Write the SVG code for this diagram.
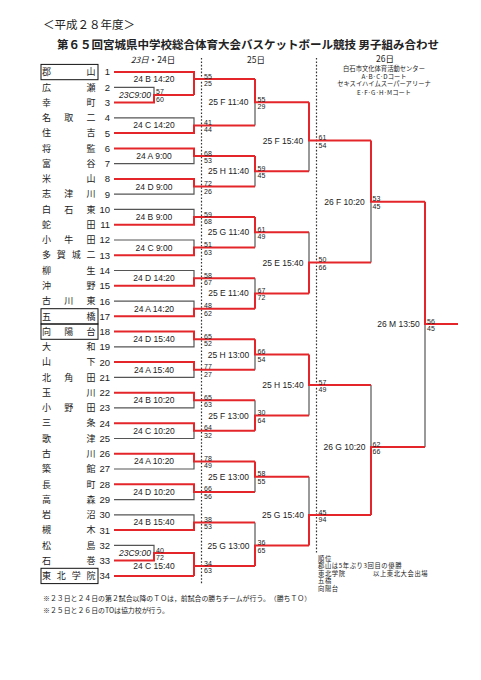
<svg xmlns="http://www.w3.org/2000/svg" width="481" height="680" viewBox="0 0 481 680">
<style>
.r{fill:none;stroke:#e4262b;stroke-width:2}
.g{fill:none;stroke:#555;stroke-width:1.2}
.dot{stroke:#333;stroke-width:1.2;stroke-dasharray:1.6 1.8}
.nm{font-family:"Noto Sans CJK JP",sans-serif;font-size:9px;fill:#222;text-anchor:middle}
.no{font-family:"Liberation Sans",sans-serif;font-size:9.5px;fill:#222;text-anchor:end}
.lb{font-family:"Liberation Sans",sans-serif;font-size:8.5px;fill:#222;text-anchor:middle}
.it{font-style:italic}
.sc{font-family:"Liberation Sans",sans-serif;font-size:7px;fill:#222}
.box{fill:none;stroke:#111;stroke-width:1}
.jp{font-family:"Noto Sans CJK JP",sans-serif;fill:#222}
.res{font-family:"Noto Sans CJK JP",sans-serif;fill:#222;font-size:6.3px;letter-spacing:0.6px}
</style>
<rect width="481" height="680" fill="#fff"/>
<g id="header">
<text class="jp" x="43" y="29" font-size="11.5">＜平成２８年度＞</text>
<text class="jp" x="57" y="48.5" font-size="11.5" font-weight="bold">第６５回宮城県中学校総合体育大会バスケットボール競技 男子組み合わせ</text>
<text class="jp" x="153" y="63" font-size="8.5" text-anchor="middle"><tspan font-style="italic">23日</tspan>・24日</text>
<text class="jp" x="256" y="63" font-size="8.5" text-anchor="middle">25日</text>
<text class="jp" x="385" y="62.2" font-size="8.5" text-anchor="middle">26日</text>
<text class="jp" x="384" y="70.8" font-size="6.3" text-anchor="middle">白石市文化体育活動センター</text>
<text class="jp" x="384" y="78.8" font-size="6.3" text-anchor="middle">A·B·C·Dコート</text>
<text class="jp" x="384" y="86.4" font-size="6.3" text-anchor="middle">セキスイハイムスーパーアリーナ</text>
<text class="jp" x="384" y="94.8" font-size="6.3" text-anchor="middle">E·F·G·H·Mコート</text>
</g>
<g id="days">
<line class="dot" x1="201.5" y1="58" x2="201.5" y2="585"/>
<line class="dot" x1="316.5" y1="58" x2="316.5" y2="553"/>
</g>
<g id="teams">
<g id="team-1"><rect class="box" x="41" y="64.4" width="57" height="15.3"/><text class="nm" x="46.5 91" y="75.2">郡山</text><text class="no" x="110" y="75.4">1</text></g>
<g id="team-2"><text class="nm" x="46.5 91" y="90.5">広瀬</text><text class="no" x="110" y="90.7">2</text></g>
<g id="team-3"><text class="nm" x="46.5 91" y="105.7">幸町</text><text class="no" x="110" y="105.9">3</text></g>
<g id="team-4"><text class="nm" x="46.5 68.75 91" y="121">名取二</text><text class="no" x="110" y="121.2">4</text></g>
<g id="team-5"><text class="nm" x="46.5 91" y="136.3">住吉</text><text class="no" x="110" y="136.5">5</text></g>
<g id="team-6"><text class="nm" x="46.5 91" y="151.6">将監</text><text class="no" x="110" y="151.8">6</text></g>
<g id="team-7"><text class="nm" x="46.5 91" y="166.8">富谷</text><text class="no" x="110" y="167">7</text></g>
<g id="team-8"><text class="nm" x="46.5 91" y="182.1">米山</text><text class="no" x="110" y="182.3">8</text></g>
<g id="team-9"><text class="nm" x="46.5 68.75 91" y="197.4">志津川</text><text class="no" x="110" y="197.6">9</text></g>
<g id="team-10"><text class="nm" x="46.5 68.75 91" y="212.6">白石東</text><text class="no" x="110" y="212.8">10</text></g>
<g id="team-11"><text class="nm" x="46.5 91" y="227.9">蛇田</text><text class="no" x="110" y="228.1">11</text></g>
<g id="team-12"><text class="nm" x="46.5 68.75 91" y="243.2">小牛田</text><text class="no" x="110" y="243.4">12</text></g>
<g id="team-13"><text class="nm" x="46.5 61.3 76.2 91" y="258.4">多賀城二</text><text class="no" x="110" y="258.6">13</text></g>
<g id="team-14"><text class="nm" x="46.5 91" y="273.7">柳生</text><text class="no" x="110" y="273.9">14</text></g>
<g id="team-15"><text class="nm" x="46.5 91" y="289">沖野</text><text class="no" x="110" y="289.2">15</text></g>
<g id="team-16"><text class="nm" x="46.5 68.75 91" y="304.3">古川東</text><text class="no" x="110" y="304.5">16</text></g>
<g id="team-17"><rect class="box" x="41" y="308.7" width="57" height="15.3"/><text class="nm" x="46.5 91" y="319.5">五橋</text><text class="no" x="110" y="319.7">17</text></g>
<g id="team-18"><rect class="box" x="41" y="324" width="57" height="15.3"/><text class="nm" x="46.5 68.75 91" y="334.8">向陽台</text><text class="no" x="110" y="335">18</text></g>
<g id="team-19"><text class="nm" x="46.5 91" y="350.1">大和</text><text class="no" x="110" y="350.3">19</text></g>
<g id="team-20"><text class="nm" x="46.5 91" y="365.3">山下</text><text class="no" x="110" y="365.5">20</text></g>
<g id="team-21"><text class="nm" x="46.5 68.75 91" y="380.6">北角田</text><text class="no" x="110" y="380.8">21</text></g>
<g id="team-22"><text class="nm" x="46.5 91" y="395.9">玉川</text><text class="no" x="110" y="396.1">22</text></g>
<g id="team-23"><text class="nm" x="46.5 68.75 91" y="411.1">小野田</text><text class="no" x="110" y="411.3">23</text></g>
<g id="team-24"><text class="nm" x="46.5 91" y="426.4">三条</text><text class="no" x="110" y="426.6">24</text></g>
<g id="team-25"><text class="nm" x="46.5 91" y="441.7">歌津</text><text class="no" x="110" y="441.9">25</text></g>
<g id="team-26"><text class="nm" x="46.5 91" y="457">古川</text><text class="no" x="110" y="457.2">26</text></g>
<g id="team-27"><text class="nm" x="46.5 91" y="472.2">築館</text><text class="no" x="110" y="472.4">27</text></g>
<g id="team-28"><text class="nm" x="46.5 91" y="487.5">長町</text><text class="no" x="110" y="487.7">28</text></g>
<g id="team-29"><text class="nm" x="46.5 91" y="502.8">高森</text><text class="no" x="110" y="503">29</text></g>
<g id="team-30"><text class="nm" x="46.5 91" y="518">岩沼</text><text class="no" x="110" y="518.2">30</text></g>
<g id="team-31"><text class="nm" x="46.5 91" y="533.3">槻木</text><text class="no" x="110" y="533.5">31</text></g>
<g id="team-32"><text class="nm" x="46.5 91" y="548.6">松島</text><text class="no" x="110" y="548.8">32</text></g>
<g id="team-33"><text class="nm" x="46.5 91" y="563.8">石巻</text><text class="no" x="110" y="564">33</text></g>
<g id="team-34"><rect class="box" x="41" y="568.3" width="57" height="15.3"/><text class="nm" x="46.5 61.3 76.2 91" y="579.1">東北学院</text><text class="no" x="110" y="579.3">34</text></g>
</g>
<g id="connectors">
<g id="gray-lines">
<path class="g" d="M114,87.3H154V94.9"/>
<path class="g" d="M114,117.8H194V125.45"/>
<path class="g" d="M114,163.6H194V156"/>
<path class="g" d="M114,194.2H194V186.55"/>
<path class="g" d="M114,209.4H194V217.05"/>
<path class="g" d="M114,240H194V247.6"/>
<path class="g" d="M114,270.5H194V278.15"/>
<path class="g" d="M114,301.1H194V308.7"/>
<path class="g" d="M114,346.9H194V339.25"/>
<path class="g" d="M114,377.4H194V369.75"/>
<path class="g" d="M114,407.9H194V400.3"/>
<path class="g" d="M114,438.5H194V430.85"/>
<path class="g" d="M114,469H194V461.4"/>
<path class="g" d="M114,499.6H194V491.95"/>
<path class="g" d="M114,514.8H194V522.45"/>
<path class="g" d="M114,545.4H154V553"/>
<path class="g" d="M255,102.2V125.45"/>
<path class="g" d="M255,171.3V186.55"/>
<path class="g" d="M255,232.3V247.6"/>
<path class="g" d="M255,278.15V293.4"/>
<path class="g" d="M255,354.5V369.75"/>
<path class="g" d="M255,400.3V415.6"/>
<path class="g" d="M255,476.7V491.95"/>
<path class="g" d="M255,522.45V545.5"/>
<path class="g" d="M309,140.5V171.3"/>
<path class="g" d="M309,232.3V262.5"/>
<path class="g" d="M309,385V415.6"/>
<path class="g" d="M309,476.7V515"/>
<path class="g" d="M371,201.7V262.5"/>
<path class="g" d="M371,385V447"/>
<path class="g" d="M425,324V447"/>
</g>
<g id="red-lines">
<path class="r" d="M114,102.5H154V94.9H194"/>
<path class="r" d="M114,72H194V94.9"/>
<path class="r" d="M194,79H255"/>
<path class="r" d="M114,133.1H194V125.45H255"/>
<path class="r" d="M114,148.4H194V156H255"/>
<path class="r" d="M114,178.9H194V186.55H255"/>
<path class="r" d="M114,224.7H194V217.05H255"/>
<path class="r" d="M114,255.2H194V247.6H255"/>
<path class="r" d="M114,285.8H194V278.15H255"/>
<path class="r" d="M114,316.3H194V308.7H255"/>
<path class="r" d="M114,331.6H194V339.25H255"/>
<path class="r" d="M114,362.1H194V369.75H255"/>
<path class="r" d="M114,392.7H194V400.3H255"/>
<path class="r" d="M114,423.2H194V430.85H255"/>
<path class="r" d="M114,453.8H194V461.4H255"/>
<path class="r" d="M114,484.3H194V491.95H255"/>
<path class="r" d="M114,530.1H194V522.45H255"/>
<path class="r" d="M114,560.6H154V553H194V575.9"/>
<path class="r" d="M114,575.9H194"/>
<path class="r" d="M194,566H255"/>
<path class="r" d="M255,79V102.2H309"/>
<path class="r" d="M255,156V171.3H309"/>
<path class="r" d="M255,217.05V232.3H309"/>
<path class="r" d="M255,308.7V293.4H309"/>
<path class="r" d="M255,339.25V354.5H309"/>
<path class="r" d="M255,430.85V415.6H309"/>
<path class="r" d="M255,461.4V476.7H309"/>
<path class="r" d="M255,566V545.5H309"/>
<path class="r" d="M309,102.2V140.5H371"/>
<path class="r" d="M309,293.4V262.5H371"/>
<path class="r" d="M309,354.5V385H371"/>
<path class="r" d="M309,545.5V515H371"/>
<path class="r" d="M371,140.5V201.7H425"/>
<path class="r" d="M371,515V447H425"/>
<path class="r" d="M425,201.7V324H458"/>
</g>
</g>
<g id="matches">
<g id="m-23c-1"><text class="lb it" x="135" y="97.9">23C9:00</text><text class="sc" x="156" y="94.4">57</text><text class="sc" x="156" y="101.9">60</text></g>
<g id="m-23c-2"><text class="lb it" x="135" y="556">23C9:00</text><text class="sc" x="156" y="552.5">40</text><text class="sc" x="156" y="560">72</text></g>
<g id="r1">
<text class="lb" x="154" y="82">24 B 14:20</text><text class="sc" x="204" y="78.5">55</text><text class="sc" x="204" y="86">25</text>
<text class="lb" x="154" y="128.45">24 C 14:20</text><text class="sc" x="204" y="124.95">41</text><text class="sc" x="204" y="132.45">44</text>
<text class="lb" x="154" y="159">24 A 9:00</text><text class="sc" x="204" y="155.5">68</text><text class="sc" x="204" y="163">53</text>
<text class="lb" x="154" y="189.55">24 D 9:00</text><text class="sc" x="204" y="186.05">72</text><text class="sc" x="204" y="193.55">26</text>
<text class="lb" x="154" y="220.05">24 B 9:00</text><text class="sc" x="204" y="216.55">59</text><text class="sc" x="204" y="224.05">68</text>
<text class="lb" x="154" y="250.6">24 C 9:00</text><text class="sc" x="204" y="247.1">51</text><text class="sc" x="204" y="254.6">63</text>
<text class="lb" x="154" y="281.15">24 D 14:20</text><text class="sc" x="204" y="277.65">58</text><text class="sc" x="204" y="285.15">67</text>
<text class="lb" x="154" y="311.7">24 A 14:20</text><text class="sc" x="204" y="308.2">48</text><text class="sc" x="204" y="315.7">62</text>
<text class="lb" x="154" y="342.25">24 D 15:40</text><text class="sc" x="204" y="338.75">65</text><text class="sc" x="204" y="346.25">52</text>
<text class="lb" x="154" y="372.75">24 A 15:40</text><text class="sc" x="204" y="369.25">77</text><text class="sc" x="204" y="376.75">27</text>
<text class="lb" x="154" y="403.3">24 B 10:20</text><text class="sc" x="204" y="399.8">65</text><text class="sc" x="204" y="407.3">63</text>
<text class="lb" x="154" y="433.85">24 C 10:20</text><text class="sc" x="204" y="430.35">64</text><text class="sc" x="204" y="437.85">32</text>
<text class="lb" x="154" y="464.4">24 A 10:20</text><text class="sc" x="204" y="460.9">78</text><text class="sc" x="204" y="468.4">49</text>
<text class="lb" x="154" y="494.95">24 D 10:20</text><text class="sc" x="204" y="491.45">66</text><text class="sc" x="204" y="498.95">56</text>
<text class="lb" x="154" y="525.45">24 B 15:40</text><text class="sc" x="204" y="521.95">38</text><text class="sc" x="204" y="529.45">53</text>
<text class="lb" x="154" y="569">24 C 15:40</text><text class="sc" x="204" y="565.5">34</text><text class="sc" x="204" y="573">63</text>
</g>
<g id="r2">
<text class="lb" x="228.5" y="105.2">25 F 11:40</text><text class="sc" x="257.5" y="101.7">55</text><text class="sc" x="257.5" y="109.2">29</text>
<text class="lb" x="228.5" y="174.3">25 H 11:40</text><text class="sc" x="257.5" y="170.8">59</text><text class="sc" x="257.5" y="178.3">45</text>
<text class="lb" x="228.5" y="235.3">25 G 11:40</text><text class="sc" x="257.5" y="231.8">61</text><text class="sc" x="257.5" y="239.3">49</text>
<text class="lb" x="228.5" y="296.4">25 E 11:40</text><text class="sc" x="257.5" y="292.9">67</text><text class="sc" x="257.5" y="300.4">72</text>
<text class="lb" x="228.5" y="357.5">25 H 13:00</text><text class="sc" x="257.5" y="354">66</text><text class="sc" x="257.5" y="361.5">54</text>
<text class="lb" x="228.5" y="418.6">25 F 13:00</text><text class="sc" x="257.5" y="415.1">30</text><text class="sc" x="257.5" y="422.6">64</text>
<text class="lb" x="228.5" y="479.7">25 E 13:00</text><text class="sc" x="257.5" y="476.2">58</text><text class="sc" x="257.5" y="483.7">55</text>
<text class="lb" x="228.5" y="548.5">25 G 13:00</text><text class="sc" x="257.5" y="545">36</text><text class="sc" x="257.5" y="552.5">65</text>
</g>
<g id="r3">
<text class="lb" x="283" y="143.5">25 F 15:40</text><text class="sc" x="318.5" y="140">61</text><text class="sc" x="318.5" y="147.5">54</text>
<text class="lb" x="283" y="265.5">25 E 15:40</text><text class="sc" x="318.5" y="262">50</text><text class="sc" x="318.5" y="269.5">66</text>
<text class="lb" x="283" y="388">25 H 15:40</text><text class="sc" x="318.5" y="384.5">57</text><text class="sc" x="318.5" y="392">49</text>
<text class="lb" x="283" y="518">25 G 15:40</text><text class="sc" x="318.5" y="514.5">45</text><text class="sc" x="318.5" y="522">94</text>
</g>
<g id="r4">
<text class="lb" x="344.5" y="204.7">26 F 10:20</text><text class="sc" x="372.5" y="201.2">53</text><text class="sc" x="372.5" y="208.7">45</text>
<text class="lb" x="344.5" y="450">26 G 10:20</text><text class="sc" x="372.5" y="446.5">62</text><text class="sc" x="372.5" y="454">66</text>
</g>
<g id="final">
<text class="lb" x="398.5" y="327">26 M 13:50</text><text class="sc" x="427" y="323.5">56</text><text class="sc" x="427" y="331">45</text>
</g>
</g>
<g id="results">
<text class="res" x="318" y="560.6">順位</text>
<text class="res" x="318" y="568.1">郡山は5年ぶり3回目の優勝</text>
<text class="res" x="318" y="575.6">東北学院<tspan x="373">以上東北大会出場</tspan></text>
<text class="res" x="318" y="583.1">五橋</text>
<text class="res" x="318" y="590.6">向陽台</text>
</g>
<g id="notes">
<text class="jp" x="43" y="601" font-size="6.9">※２３日と２４日の第２試合以降のＴＯは，前試合の勝ちチームが行う。　（勝ちＴＯ）</text>
<text class="jp" x="43" y="613.4" font-size="6.9">※２５日と２６日のTOは協力校が行う。</text>
</g>
</svg>
